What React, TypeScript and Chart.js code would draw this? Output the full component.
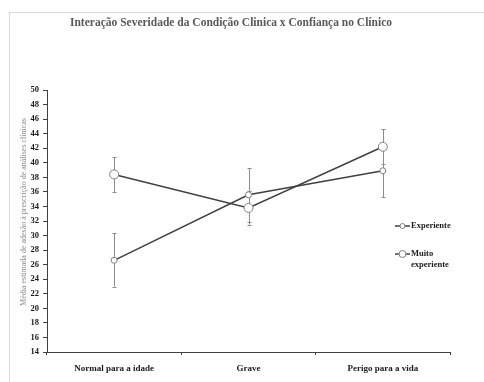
import { useEffect, useRef } from "react";
import { Chart, registerables } from "chart.js";

Chart.register(...registerables);

const categories = ["Normal para a idade", "Grave", "Perigo para a vida"];
const seriesNames = ["Experiente", "Muito experiente"];

const experiente = [26.6, 35.6, 38.9];
const experienteLow = [23.0, 31.8, 35.3];
const experienteHigh = [30.3, 39.3, 42.5];

const muito = [38.4, 33.8, 42.2];
const muitoLow = [36.0, 31.5, 39.8];
const muitoHigh = [40.8, 36.1, 44.6];

const yMin = 14;
const yMax = 50;
const yStep = 2;

const titleText = "Interação Severidade da Condição Clinica x Confiança no Clínico";
const yTitleText = "Média estimada de adesão à prescrição de análises clínicas";

const SERIF = "'Liberation Serif', 'Times New Roman', serif";

const errorBars = [
  { low: experienteLow, high: experienteHigh },
  { low: muitoLow, high: muitoHigh },
];

const decorPlugin = {
  id: "decor",
  beforeDraw(chart: any) {
    const ctx = chart.ctx;
    ctx.save();
    ctx.fillStyle = "#ffffff";
    ctx.fillRect(0, 0, chart.width, chart.height);
    ctx.strokeStyle = "#d9d9d9";
    ctx.lineWidth = 1;
    ctx.strokeRect(9.5, 12.5, chart.width + 20, chart.height + 20);
    ctx.restore();
  },
  beforeDatasetsDraw(chart: any) {
    const ctx = chart.ctx;
    const y = chart.scales.y;
    ctx.save();
    ctx.strokeStyle = "#8c8c8c";
    ctx.lineWidth = 1;
    errorBars.forEach((eb, di) => {
      const meta = chart.getDatasetMeta(di);
      meta.data.forEach((pt: any, i: number) => {
        const x = Math.round(pt.x) + 0.5;
        const yl = y.getPixelForValue(eb.low[i]);
        const yh = y.getPixelForValue(eb.high[i]);
        ctx.beginPath();
        ctx.moveTo(x, yl);
        ctx.lineTo(x, yh);
        ctx.moveTo(x - 2, Math.round(yl) + 0.5);
        ctx.lineTo(x + 2, Math.round(yl) + 0.5);
        ctx.moveTo(x - 2, Math.round(yh) + 0.5);
        ctx.lineTo(x + 2, Math.round(yh) + 0.5);
        ctx.stroke();
      });
    });
    ctx.restore();
  },
  afterDraw(chart: any) {
    const ctx = chart.ctx;
    ctx.save();
    // chart title
    ctx.fillStyle = "#595959";
    ctx.font = `bold 11.5px ${SERIF}`;
    ctx.textAlign = "center";
    ctx.textBaseline = "middle";
    ctx.fillText(titleText, 231, 23);
    // vertical axis title
    ctx.save();
    ctx.translate(24, 212);
    ctx.rotate(-Math.PI / 2);
    ctx.fillStyle = "#8c8c8c";
    ctx.font = `8px ${SERIF}`;
    ctx.fillText(yTitleText, 0, 0);
    ctx.restore();
    // legend
    const items = [
      { lines: ["Experiente"], y: 226, r: 2.5 },
      { lines: ["Muito", "experiente"], y: 254, r: 3.5 },
    ];
    items.forEach((it, i) => {
      const ds = chart.data.datasets[i];
      ctx.strokeStyle = ds.borderColor;
      ctx.lineWidth = 1.5;
      ctx.beginPath();
      ctx.moveTo(395, it.y);
      ctx.lineTo(410, it.y);
      ctx.stroke();
      ctx.fillStyle = "#ffffff";
      ctx.strokeStyle = "#808080";
      ctx.lineWidth = 1;
      ctx.beginPath();
      ctx.arc(402.5, it.y, it.r, 0, Math.PI * 2);
      ctx.fill();
      ctx.stroke();
      ctx.fillStyle = "#1a1a1a";
      ctx.font = `bold 8.5px ${SERIF}`;
      ctx.textAlign = "left";
      it.lines.forEach((ln, k) => ctx.fillText(ln, 411, it.y + k * 11));
    });
    ctx.restore();
  },
};

export default function App() {
  const ref = useRef<HTMLCanvasElement | null>(null);
  useEffect(() => {
    document.body.style.margin = "0";
    const canvas = ref.current;
    if (!canvas) return;
    const chart = new Chart(canvas, {
      type: "line",
      data: {
        labels: categories,
        datasets: [
          {
            label: seriesNames[0],
            data: experiente,
            borderColor: "#404040",
            borderWidth: 1.5,
            pointRadius: 3,
            pointBackgroundColor: "#ffffff",
            pointBorderColor: "#808080",
            pointBorderWidth: 1,
          },
          {
            label: seriesNames[1],
            data: muito,
            borderColor: "#404040",
            borderWidth: 1.5,
            pointRadius: 4.5,
            pointBackgroundColor: "#ffffff",
            pointBorderColor: "#808080",
            pointBorderWidth: 1,
          },
        ],
      },
      options: {
        responsive: false,
        animation: false,
        devicePixelRatio: 1,
        layout: { padding: { top: 90, right: 34, bottom: 0, left: 0 } },
        plugins: {
          legend: { display: false },
          tooltip: { enabled: false },
          title: { display: false },
        },
        scales: {
          x: {
            offset: true,
            grid: {
              offset: true,
              drawOnChartArea: false,
              drawTicks: true,
              tickLength: 3,
              color: "#404040",
            },
            border: { display: true, color: "#404040", width: 1 },
            ticks: {
              color: "#1a1a1a",
              font: { family: SERIF, size: 9, weight: "bold" },
              padding: 8,
              maxRotation: 0,
            },
            afterFit(scale: any) {
              scale.height = 30;
            },
          },
          y: {
            min: yMin,
            max: yMax,
            ticks: {
              stepSize: yStep,
              color: "#1a1a1a",
              font: { family: SERIF, size: 8.5, weight: "bold" },
              padding: 4,
            },
            grid: {
              drawOnChartArea: false,
              drawTicks: true,
              tickLength: 4,
              color: "#404040",
            },
            border: { display: true, color: "#404040", width: 1 },
            afterFit(scale: any) {
              scale.width = 47;
            },
          },
        },
      },
      plugins: [decorPlugin],
    });
    return () => chart.destroy();
  }, []);
  return (
    <div style={{ width: 484, height: 382 }}>
      <canvas ref={ref} width={484} height={382} />
    </div>
  );
}
